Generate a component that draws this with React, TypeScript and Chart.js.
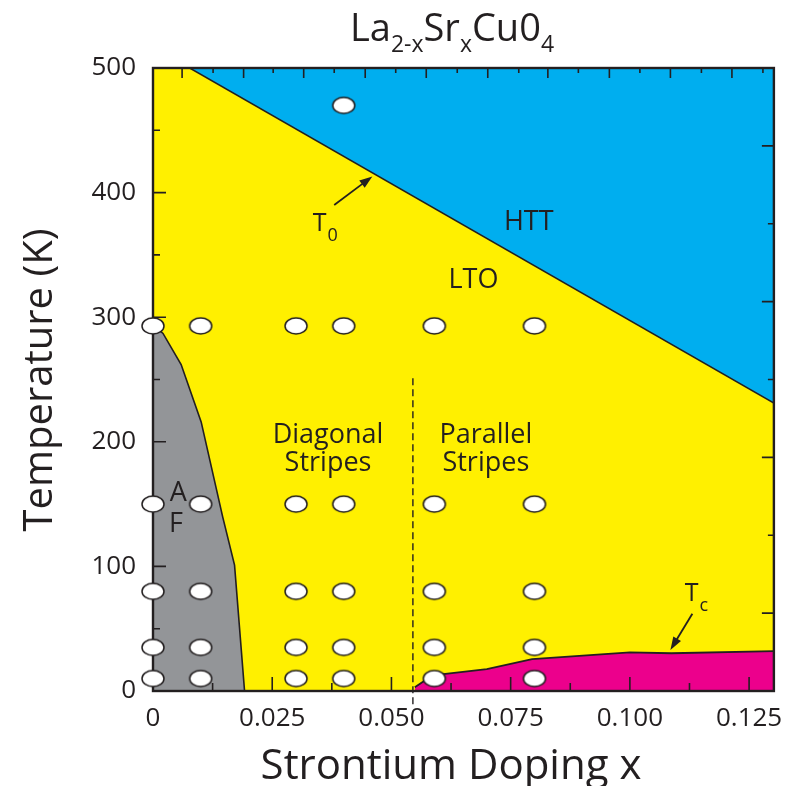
import { useEffect, useRef } from "react";
import { Chart, registerables } from "chart.js";

Chart.register(...registerables);

const FONT = '"Open Sans", "Noto Sans", sans-serif';
const INK = "#231f20";
const LTO_YELLOW = "#fff000";
const HTT_BLUE = "#00aeef";
const AF_GRAY = "#939598";
const SC_PINK = "#ec008c";

// Sample grid: doping levels and measurement temperatures (K)
const sampleDoping = [0, 0.01, 0.03, 0.04, 0.059, 0.08];
const sampleTemps = [293, 150, 80, 35, 10];
const extraDoping = [0.04];
const extraTemps = [470];

// T0: HTT / LTO structural transition line
const t0Doping = [0.0077, 0.1302];
const t0Temps = [500, 231];

// Antiferromagnetic (Neel) boundary
const afDoping = [0, 0.0021, 0.0059, 0.0101, 0.0146, 0.0171, 0.0192];
const afTemps = [294, 287, 262, 216, 140, 101, 0];

// Superconducting Tc
const tcDoping = [0.0549, 0.0586, 0.07, 0.0795, 0.1, 0.1087, 0.1302];
const tcTemps = [3, 12.5, 17.5, 25.5, 31, 30.3, 32];

// Diagonal / parallel stripe boundary
const stripeDoping = [0.0545, 0.0545];
const stripeTemps = [251, -13];

// Axis ticks
const X_MIN = 0;
const X_MAX = 0.1302;
const Y_MIN = 0;
const Y_MAX = 500;
const xTickValues = [0, 0.025, 0.05, 0.075, 0.1, 0.125];
const xTickLabels = ["0", "0.025", "0.050", "0.075", "0.100", "0.125"];
const xMinorTicks = [0.0125, 0.0375, 0.0625, 0.0875, 0.1125];
const yTickValues = [0, 100, 200, 300, 400, 500];
const yTickLabels = ["0", "100", "200", "300", "400", "500"];
const yMajorInner = [100, 200, 300, 400];
const yMinorTicks = [50, 150, 250, 350, 450];
const topMajorTicks = [0.0061, 0.019, 0.0316, 0.0445, 0.0573, 0.0702, 0.0828, 0.0957, 0.1085, 0.1214];
const topMinorTicks = [0.0126, 0.0252, 0.038, 0.0509, 0.0638, 0.0767, 0.0892, 0.1021, 0.115, 0.1279];
const rightMajorTicks = [62.5, 187.5, 312.5, 437.5];
const rightMinorTicks = [125, 250, 375];

// Region / line labels, in data coordinates
const regionLabels = [
  { text: "HTT", x: 0.0788, t: 376 },
  { text: "LTO", x: 0.0672, t: 330 },
  { text: "Diagonal", x: 0.0367, t: 205 },
  { text: "Stripes", x: 0.0367, t: 183 },
  { text: "Parallel", x: 0.0698, t: 205 },
  { text: "Stripes", x: 0.0698, t: 183 },
  { text: "A", x: 0.0053, t: 159 },
  { text: "F", x: 0.0048, t: 134 },
];
const t0Label = { x: 0.0335, t: 369, sub: "0" };
const tcLabel = { x: 0.1115, t: 72, sub: "c" };
const t0Arrow = { x0: 0.038, t0: 390, x1: 0.046, t1: 413 };
const tcArrow = { x0: 0.1131, t0: 62, x1: 0.1085, t1: 33 };

const pts = (xs: number[], ys: number[]) => xs.map((x, i) => ({ x, y: ys[i] }));

function makeEllipse(): HTMLCanvasElement {
  const c = document.createElement("canvas");
  c.width = 26;
  c.height = 20;
  const g = c.getContext("2d")!;
  g.beginPath();
  g.ellipse(13, 10, 11, 8, 0, 0, Math.PI * 2);
  g.fillStyle = "#ffffff";
  g.fill();
  g.lineWidth = 1.5;
  g.strokeStyle = INK;
  g.stroke();
  return c;
}

function drawArrow(ctx: CanvasRenderingContext2D, x0: number, y0: number, x1: number, y1: number) {
  const ang = Math.atan2(y1 - y0, x1 - x0);
  const head = 13;
  const half = 4.5;
  ctx.beginPath();
  ctx.moveTo(x0, y0);
  ctx.lineTo(x1 - Math.cos(ang) * head * 0.8, y1 - Math.sin(ang) * head * 0.8);
  ctx.lineWidth = 1.8;
  ctx.strokeStyle = INK;
  ctx.stroke();
  ctx.beginPath();
  ctx.moveTo(x1, y1);
  ctx.lineTo(x1 - Math.cos(ang) * head + Math.sin(ang) * half, y1 - Math.sin(ang) * head - Math.cos(ang) * half);
  ctx.lineTo(x1 - Math.cos(ang) * head - Math.sin(ang) * half, y1 - Math.sin(ang) * head + Math.cos(ang) * half);
  ctx.closePath();
  ctx.fillStyle = INK;
  ctx.fill();
}

function drawSubscripted(ctx: CanvasRenderingContext2D, parts: [string, boolean][], cx: number, baseline: number, main: number, sub: number, drop: number) {
  let total = 0;
  const widths = parts.map(([s, isSub]) => {
    ctx.font = `${isSub ? sub : main}px ${FONT}`;
    const w = ctx.measureText(s).width;
    total += w;
    return w;
  });
  let x = cx - total / 2;
  ctx.textAlign = "left";
  ctx.textBaseline = "alphabetic";
  parts.forEach(([s, isSub], i) => {
    ctx.font = `${isSub ? sub : main}px ${FONT}`;
    ctx.fillText(s, x, isSub ? baseline + drop : baseline);
    x += widths[i];
  });
}

const decorPlugin = {
  id: "phaseDecor",
  beforeDraw(chart: any) {
    const { ctx, chartArea: a } = chart;
    ctx.save();
    ctx.fillStyle = "#ffffff";
    ctx.fillRect(0, 0, chart.width, chart.height);
    ctx.fillStyle = LTO_YELLOW;
    ctx.fillRect(a.left, a.top, a.right - a.left, a.bottom - a.top);
    ctx.restore();
  },
  beforeDatasetsDraw(chart: any) {
    const { ctx, chartArea: a } = chart;
    const xs = chart.scales.x;
    const ys = chart.scales.y;
    ctx.save();
    ctx.strokeStyle = INK;
    ctx.lineWidth = 1.6;
    ctx.beginPath();
    const tick = (x0: number, y0: number, x1: number, y1: number) => {
      ctx.moveTo(x0, y0);
      ctx.lineTo(x1, y1);
    };
    xTickValues.slice(1).forEach((v) => {
      const px = xs.getPixelForValue(v);
      tick(px, a.bottom, px, a.bottom - 14);
    });
    xMinorTicks.forEach((v) => {
      const px = xs.getPixelForValue(v);
      tick(px, a.bottom, px, a.bottom - 8);
    });
    yMajorInner.forEach((v) => {
      const py = ys.getPixelForValue(v);
      tick(a.left, py, a.left + 13, py);
    });
    yMinorTicks.forEach((v) => {
      const py = ys.getPixelForValue(v);
      tick(a.left, py, a.left + 7, py);
    });
    topMajorTicks.forEach((v) => {
      const px = xs.getPixelForValue(v);
      tick(px, a.top, px, a.top + 10);
    });
    topMinorTicks.forEach((v) => {
      const px = xs.getPixelForValue(v);
      tick(px, a.top, px, a.top + 5);
    });
    rightMajorTicks.forEach((v) => {
      const py = ys.getPixelForValue(v);
      tick(a.right, py, a.right - 12, py);
    });
    rightMinorTicks.forEach((v) => {
      const py = ys.getPixelForValue(v);
      tick(a.right, py, a.right - 6, py);
    });
    ctx.stroke();

    // plot frame
    ctx.lineWidth = 2.4;
    ctx.strokeRect(a.left, a.top, a.right - a.left, a.bottom - a.top);

    // dashed stripe-orientation boundary, running just past the axis
    ctx.beginPath();
    ctx.setLineDash([7, 4]);
    ctx.lineWidth = 1.4;
    stripeDoping.forEach((x, i) => {
      const px = xs.getPixelForValue(x);
      const py = ys.getPixelForValue(stripeTemps[i]);
      if (i === 0) ctx.moveTo(px, py);
      else ctx.lineTo(px, py);
    });
    ctx.stroke();
    ctx.restore();
  },
  afterDatasetsDraw(chart: any) {
    const { ctx } = chart;
    const xs = chart.scales.x;
    const ys = chart.scales.y;
    const X = (v: number) => xs.getPixelForValue(v);
    const Y = (v: number) => ys.getPixelForValue(v);
    ctx.save();
    ctx.fillStyle = INK;
    ctx.textAlign = "center";
    ctx.textBaseline = "middle";
    ctx.font = `27px ${FONT}`;
    regionLabels.forEach((l) => ctx.fillText(l.text, X(l.x), Y(l.t)));

    // T0 and Tc labels
    ctx.textAlign = "left";
    ctx.textBaseline = "alphabetic";
    [t0Label, tcLabel].forEach((l) => {
      ctx.font = `25px ${FONT}`;
      const x = X(l.x);
      const y = Y(l.t);
      ctx.fillText("T", x, y);
      const w = ctx.measureText("T").width;
      ctx.font = `18px ${FONT}`;
      ctx.fillText(l.sub, x + w + 1, y + 10);
    });

    drawArrow(ctx, X(t0Arrow.x0), Y(t0Arrow.t0), X(t0Arrow.x1), Y(t0Arrow.t1));
    drawArrow(ctx, X(tcArrow.x0), Y(tcArrow.t0), X(tcArrow.x1), Y(tcArrow.t1));
    ctx.restore();
  },
  afterDraw(chart: any) {
    const { ctx } = chart;
    ctx.save();
    ctx.fillStyle = INK;
    drawSubscripted(
      ctx,
      [["La", false], ["2-x", true], ["Sr", false], ["x", true], ["Cu0", false], ["4", true]],
      452,
      41,
      38,
      23,
      11
    );
    ctx.font = `42px ${FONT}`;
    ctx.textAlign = "center";
    ctx.textBaseline = "alphabetic";
    ctx.fillText("Strontium Doping x", 451, 779);
    ctx.font = `40px ${FONT}`;
    ctx.translate(52, 380);
    ctx.rotate(-Math.PI / 2);
    ctx.fillText("Temperature (K)", 0, 0);
    ctx.restore();
  },
};

export default function App() {
  const ref = useRef<HTMLCanvasElement | null>(null);

  useEffect(() => {
    const canvas = ref.current;
    if (!canvas) return;
    const ellipse = makeEllipse();
    const samples = [
      ...sampleDoping.flatMap((x) => sampleTemps.map((t) => ({ x, y: t }))),
      ...pts(extraDoping, extraTemps),
    ];
    const chart = new Chart(canvas, {
      type: "scatter",
      data: {
        datasets: [
          {
            type: "scatter",
            label: "samples",
            data: samples,
            pointStyle: ellipse as any,
            pointRadius: 11,
            clip: 20 as any,
            order: 0,
          },
          {
            type: "line",
            label: "T0",
            data: pts(t0Doping, t0Temps),
            borderColor: INK,
            borderWidth: 1.5,
            backgroundColor: HTT_BLUE,
            fill: "end",
            pointRadius: 0,
            tension: 0,
            order: 2,
          },
          {
            type: "line",
            label: "AF",
            data: pts(afDoping, afTemps),
            borderColor: INK,
            borderWidth: 1.6,
            backgroundColor: AF_GRAY,
            fill: "start",
            pointRadius: 0,
            tension: 0,
            order: 3,
          },
          {
            type: "line",
            label: "Tc",
            data: pts(tcDoping, tcTemps),
            borderColor: INK,
            borderWidth: 1.8,
            backgroundColor: SC_PINK,
            fill: "start",
            pointRadius: 0,
            tension: 0,
            order: 4,
          },
        ],
      },
      options: {
        responsive: false,
        animation: false,
        events: [],
        layout: { padding: { left: 0, top: 68, right: 19, bottom: 0 } },
        plugins: {
          legend: { display: false },
          tooltip: { enabled: false },
          filler: { drawTime: "beforeDatasetsDraw" },
        },
        scales: {
          x: {
            type: "linear",
            min: X_MIN,
            max: X_MAX,
            grid: { display: false, drawTicks: false },
            border: { display: false },
            afterBuildTicks: (axis: any) => {
              axis.ticks = xTickValues.map((value) => ({ value }));
            },
            afterFit: (axis: any) => {
              axis.height = 95;
            },
            ticks: {
              autoSkip: false,
              maxRotation: 0,
              padding: 12,
              color: INK,
              font: { family: FONT, size: 26 },
              callback: (v: any) => xTickLabels[xTickValues.indexOf(Number(v))] ?? "",
            },
          },
          y: {
            type: "linear",
            min: Y_MIN,
            max: Y_MAX,
            grid: { display: false, drawTicks: false },
            border: { display: false },
            afterBuildTicks: (axis: any) => {
              axis.ticks = yTickValues.map((value) => ({ value }));
            },
            afterFit: (axis: any) => {
              axis.width = 153;
            },
            ticks: {
              padding: 17,
              color: INK,
              font: { family: FONT, size: 26 },
              callback: (v: any) => yTickLabels[yTickValues.indexOf(Number(v))] ?? "",
            },
          },
        },
      },
      plugins: [decorPlugin],
    });
    return () => chart.destroy();
  }, []);

  return (
    <div style={{ position: "absolute", left: 0, top: 0, width: 795, height: 786, background: "#fff" }}>
      <canvas ref={ref} width={795} height={786} style={{ display: "block", width: 795, height: 786 }} />
    </div>
  );
}
